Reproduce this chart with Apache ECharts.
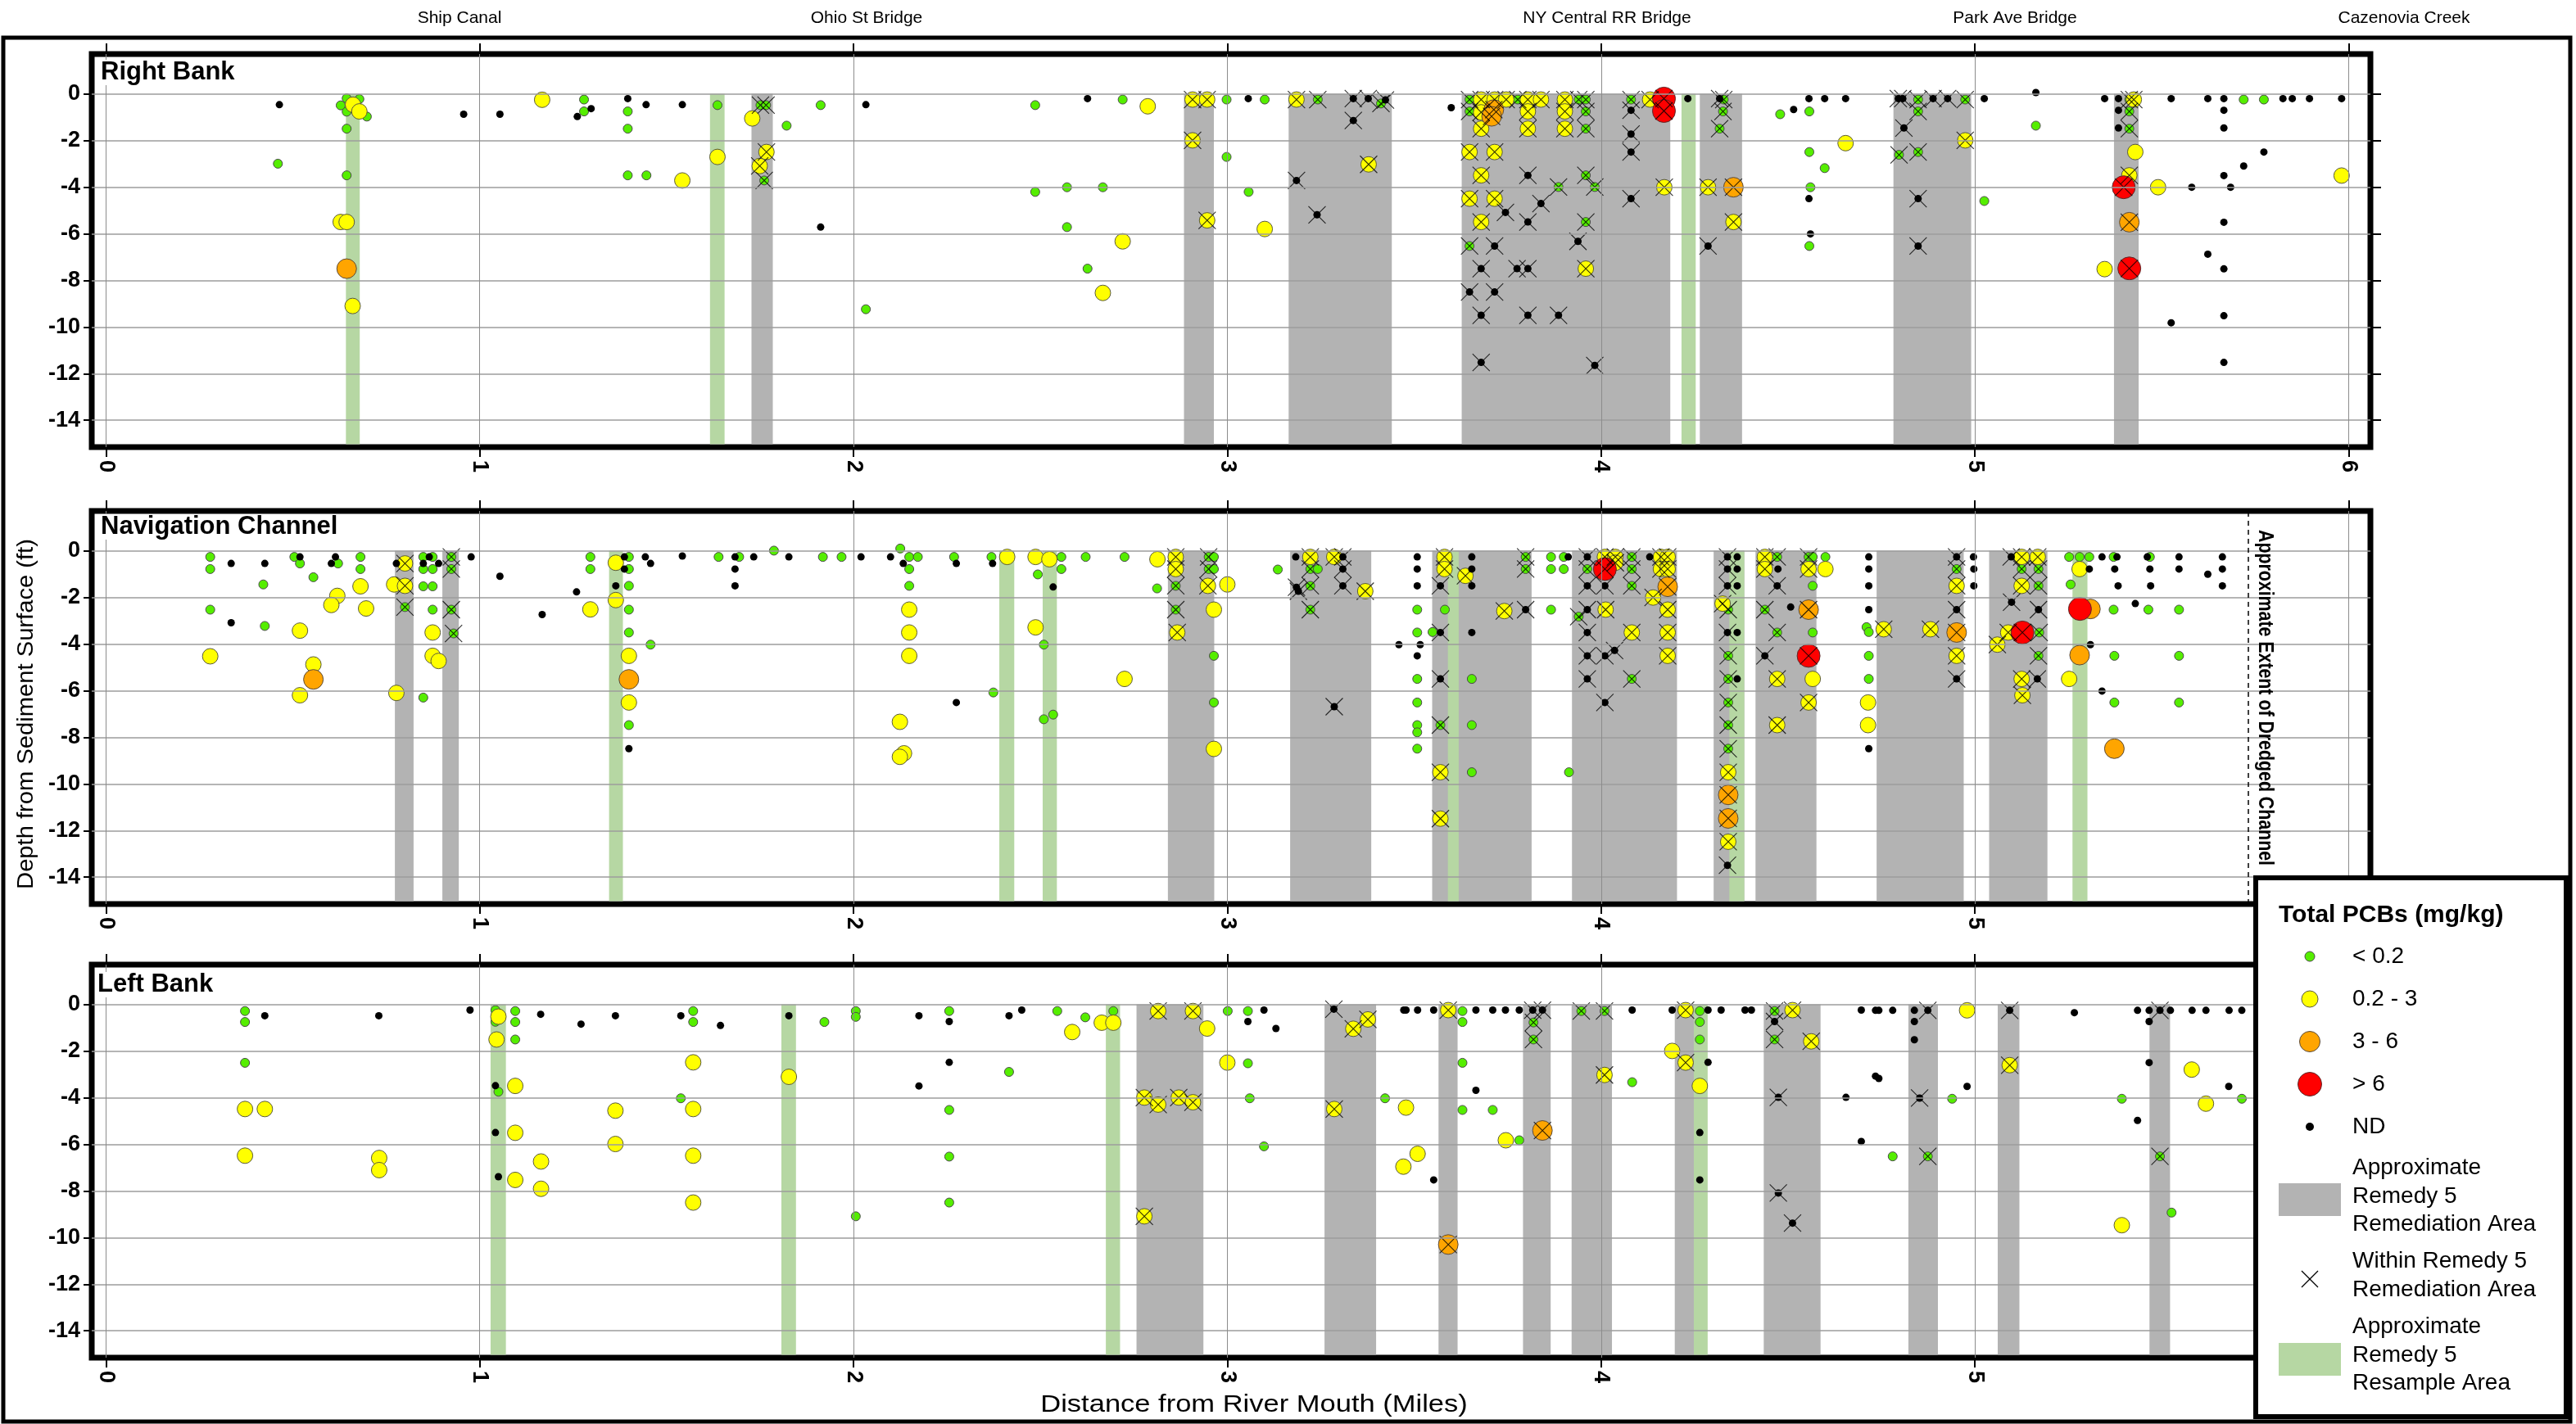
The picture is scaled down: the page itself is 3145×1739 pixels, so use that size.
<!DOCTYPE html>
<html><head><meta charset="utf-8">
<script src="https://cdn.jsdelivr.net/npm/echarts@6.0.0/dist/echarts.min.js"></script>
<style>html,body{margin:0;padding:0;background:#fff}#c{width:3145px;height:1739px}</style>
</head><body><div id="c"></div>
<script>
// ---------------- DATA ----------------
// points: [mile, depth(ft), withinRemedy5(1) ]
const panelNames = ['Right Bank', 'Navigation Channel', 'Left Bank'];
const mileTicks = [0, 1, 2, 3, 4, 5, 6];
const mileTicksUnderLegend = [0, 1, 2, 3, 4, 5];
const depthTicks = [0, -2, -4, -6, -8, -10, -12, -14];
const classNames = ['< 0.2', '0.2 - 3', '3 - 6', '> 6', 'ND'];
const landmarkNames = ['Ship Canal', 'Ohio St Bridge', 'NY Central RR Bridge', 'Park Ave Bridge', 'Cazenovia Creek'];
const dredgedChannelEnd = 5.732;

// ---- Right Bank ----
const rbGreen = [[0.46,-3.0,0],[0.644,-0.2,0],[0.678,-0.23,0],[0.628,-0.5,0],[0.644,-0.77,0],[0.698,-0.98,0],[0.644,-1.5,0],[0.644,-3.5,0],
[1.279,-0.25,0],[1.279,-0.76,0],[1.396,-0.76,0],[1.396,-1.5,0],[1.396,-3.5,0],[1.446,-3.5,0],
[1.636,-0.49,0],[1.751,-0.49,1],[1.766,-0.49,1],[1.821,-1.37,0],[1.912,-0.49,0],[1.761,-3.72,1],
[2.033,-9.24,0],[2.486,-0.49,0],[2.486,-4.21,0],[2.571,-4.01,0],[2.667,-4.01,0],[2.571,-5.72,0],[2.72,-0.25,0],[2.626,-7.5,0],
[2.998,-0.25,0],[2.998,-2.71,0],[3.1,-0.25,0],[3.057,-4.21,0],[3.242,-0.25,1],[3.411,-0.42,1],
[3.648,-0.25,1],[3.648,-0.76,1],[3.777,-0.25,1],[3.94,-0.25,1],[3.959,-0.25,1],[3.959,-0.76,1],[3.959,-1.5,1],[3.959,-3.5,1],[3.886,-4.0,1],[3.983,-4.0,1],[3.959,-5.5,1],[3.648,-6.53,1],
[4.08,-0.25,1],[4.328,-0.25,1],[4.326,-0.76,1],[4.317,-1.5,1],
[4.479,-0.88,0],[4.557,-0.76,0],[4.557,-2.5,0],[4.598,-3.19,0],[4.56,-4.01,0],[4.557,-6.53,0],
[4.848,-0.25,1],[4.974,-0.25,1],[4.848,-0.76,1],[4.797,-2.62,1],[4.848,-2.5,1],
[5.163,-1.37,0],[5.025,-4.6,0],[5.413,-0.25,1],[5.413,-0.76,1],[5.413,-1.5,1],[5.719,-0.25,0],[5.773,-0.25,0]];
const rbYellow = [[0.661,-0.47,0],[0.678,-0.76,0],[0.628,-5.5,0],[0.644,-5.5,0],[0.66,-9.1,0],
[1.167,-0.26,0],[1.542,-3.72,0],[1.636,-2.71,0],[1.729,-1.06,0],[1.767,-2.5,1],[1.749,-3.1,1],
[2.787,-0.54,0],[2.72,-6.33,0],[2.667,-8.54,0],[2.907,-0.25,1],[2.946,-0.25,1],[2.907,-2.0,1],[2.946,-5.43,1],
[3.1,-5.8,0],[3.185,-0.25,1],[3.378,-3.03,1],
[3.679,-0.25,1],[3.715,-0.25,1],[3.746,-0.25,1],[3.804,-0.25,1],[3.839,-0.25,1],[3.903,-0.25,1],
[3.679,-0.8,1],[3.804,-0.76,1],[3.903,-0.76,1],[3.679,-1.5,1],[3.804,-1.5,1],[3.903,-1.5,1],
[3.648,-2.5,1],[3.715,-2.5,1],[3.679,-3.5,1],[3.648,-4.5,1],[3.715,-4.5,1],[3.679,-5.5,1],[3.959,-7.5,1],
[4.131,-0.25,1],[4.169,-4.01,1],[4.286,-4.01,1],[4.354,-5.5,1],[4.654,-2.12,0],[4.974,-2.0,1],
[5.425,-0.25,1],[5.429,-2.5,0],[5.413,-3.5,1],[5.49,-4.01,0],[5.347,-7.52,0],[5.981,-3.51,0]];
const rbOrange = [[0.644,-7.5,0],[3.713,-0.68,1],[3.707,-0.97,1],[4.354,-4.01,1],[5.413,-5.51,1]];
const rbRed = [[4.168,-0.21,1],[4.168,-0.74,1],[5.398,-4.01,1],[5.413,-7.49,1]];
const rbND = [[0.464,-0.47,0],[0.957,-0.88,0],[1.054,-0.88,0],[1.261,-0.98,0],[1.298,-0.64,0],[1.396,-0.21,0],[1.445,-0.47,0],[1.542,-0.47,0],
[1.912,-5.72,0],[2.033,-0.47,0],[2.626,-0.21,0],[3.056,-0.21,0],
[3.337,-0.21,1],[3.377,-0.21,1],[3.423,-0.27,1],[3.337,-1.15,1],[3.185,-3.72,1],[3.24,-5.19,1],[3.599,-0.6,0],
[3.804,-3.5,1],[3.839,-4.71,1],[3.744,-5.09,1],[3.804,-5.5,1],[3.938,-6.33,1],[3.715,-6.53,1],[3.679,-7.5,1],[3.775,-7.5,1],[3.804,-7.5,1],[3.648,-8.5,1],[3.715,-8.5,1],[3.679,-9.5,1],[3.804,-9.5,1],[3.886,-9.5,1],[3.679,-11.52,1],[3.983,-11.65,1],
[4.08,-0.71,1],[4.08,-1.73,1],[4.08,-2.5,1],[4.08,-4.5,1],[4.232,-0.21,0],[4.317,-0.21,1],[4.286,-6.53,1],
[4.515,-0.68,0],[4.556,-0.21,0],[4.598,-0.21,0],[4.654,-0.21,0],[4.556,-4.5,0],[4.56,-6.01,0],
[4.795,-0.21,1],[4.807,-0.21,1],[4.888,-0.21,1],[4.927,-0.21,1],[4.81,-1.47,1],[4.848,-4.5,1],[4.848,-6.53,1],
[5.025,-0.21,0],[5.163,0.05,0],[5.347,-0.21,0],[5.384,-0.21,0],[5.384,-0.71,0],[5.384,-1.47,0],
[5.525,-0.21,0],[5.623,-0.21,0],[5.666,-0.21,0],[5.824,-0.21,0],[5.849,-0.21,0],[5.895,-0.21,0],[5.981,-0.21,0],
[5.666,-0.71,0],[5.666,-1.47,0],[5.773,-2.5,0],[5.719,-3.1,0],[5.666,-3.51,0],[5.58,-4.01,0],[5.684,-4.01,0],[5.666,-5.51,0],[5.623,-6.88,0],[5.666,-7.51,0],[5.666,-9.52,0],[5.525,-9.82,0],[5.666,-11.52,0]];
const rbRemedyBands = [[1.727,1.784],[2.884,2.964],[3.164,3.44],[3.627,4.185],[4.264,4.377],[4.782,4.99],[5.372,5.438]];
const rbResampleBands = [[0.642,0.679],[1.616,1.655],[4.215,4.253]];

// ---- Navigation Channel ----
const ncGreen = [[0.279,-0.27,0],[0.279,-0.79,0],[0.279,-2.53,0],[0.421,-1.45,0],[0.425,-3.23,0],[0.504,-0.27,0],[0.519,-0.55,0],[0.555,-1.14,0],[0.621,-0.55,0],
[0.681,-0.27,0],[0.681,-0.79,0],[0.8,-2.42,1],[0.849,-0.27,0],[0.849,-0.79,0],[0.849,-1.53,0],[0.874,-0.27,0],[0.874,-0.79,0],[0.874,-1.53,0],[0.874,-2.53,0],[0.849,-6.3,0],
[0.924,-0.27,1],[0.924,-0.79,1],[0.924,-2.53,1],[0.93,-3.55,1],[1.296,-0.27,0],[1.296,-0.79,0],
[1.399,-0.27,0],[1.399,-0.79,0],[1.399,-1.51,0],[1.399,-2.53,0],[1.399,-3.51,0],[1.399,-7.48,0],[1.457,-4.03,0],
[1.639,-0.27,0],[1.694,-0.27,0],[1.787,0.0,0],[1.918,-0.27,0],[1.968,-0.27,0],
[2.125,0.09,0],[2.149,-0.27,0],[2.172,-0.27,0],[2.149,-0.79,0],[2.149,-1.51,0],[2.269,-0.27,0],[2.369,-0.27,0],[2.374,-6.08,0],
[2.493,-1.02,0],[2.509,-4.03,0],[2.509,-7.23,0],[2.534,-7.03,0],[2.556,-0.27,0],[2.556,-0.79,0],[2.621,-0.27,0],[2.725,-0.27,0],[2.812,-1.62,0],
[2.862,-1.51,1],[2.862,-2.53,1],[2.95,-0.27,1],[2.95,-0.79,1],[2.964,-0.27,0],[2.964,-0.79,0],[2.964,-4.51,0],[2.964,-6.51,0],
[3.135,-0.81,0],[3.222,-0.79,1],[3.242,-0.79,0],[3.222,-1.51,1],[3.222,-2.53,1],
[3.508,-2.53,0],[3.508,-3.51,0],[3.549,-3.49,0],[3.508,-5.5,0],[3.508,-6.51,0],[3.508,-7.48,0],[3.508,-7.79,0],[3.508,-8.49,0],
[3.582,-2.53,0],[3.57,-7.48,1],[3.654,-5.5,0],[3.654,-7.48,0],[3.654,-9.5,0],[3.798,-0.27,1],[3.798,-0.79,1],
[3.866,-0.27,0],[3.9,-0.27,0],[3.866,-0.79,0],[3.9,-0.79,0],[3.866,-2.53,0],[3.914,-9.5,0],[3.963,-0.79,1],[3.94,-2.83,1],
[4.082,-0.27,1],[4.082,-0.79,1],[4.082,-1.51,1],[4.082,-5.5,1],
[4.34,-2.53,1],[4.34,-4.51,1],[4.34,-5.5,1],[4.34,-6.51,1],[4.34,-7.48,1],[4.34,-8.49,1],
[4.471,-0.27,1],[4.438,-2.53,1],[4.471,-3.51,1],[4.555,-0.27,1],[4.566,-0.27,0],[4.6,-0.27,0],[4.566,-1.51,0],[4.566,-3.51,0],
[4.71,-3.28,0],[4.716,-3.49,0],[4.716,-4.51,0],[4.716,-5.5,0],
[4.951,-0.79,1],[5.125,-0.79,1],[5.17,-0.79,1],[5.17,-1.51,1],[5.172,-3.51,1],[5.17,-4.51,1],
[5.252,-0.27,0],[5.28,-0.27,0],[5.306,-0.27,0],[5.371,-0.27,0],[5.468,-0.27,0],[5.256,-1.45,0],
[5.371,-2.53,0],[5.464,-2.53,0],[5.546,-2.53,0],[5.373,-4.51,0],[5.546,-4.51,0],[5.373,-6.51,0],[5.546,-6.51,0]];
const ncYellow = [[0.279,-4.53,0],[0.519,-3.43,0],[0.519,-6.2,0],[0.555,-4.88,0],[0.619,-1.94,0],[0.603,-2.33,0],[0.681,-1.53,0],[0.696,-2.48,0],
[0.8,-0.55,1],[0.771,-1.45,0],[0.8,-1.51,1],[0.777,-6.1,0],[0.874,-3.51,0],[0.874,-4.51,0],[0.89,-4.73,0],
[1.296,-2.52,0],[1.364,-0.52,0],[1.364,-2.12,0],[1.399,-4.51,0],[1.399,-6.51,0],
[2.149,-2.53,0],[2.149,-3.51,0],[2.149,-4.51,0],[2.124,-7.34,0],[2.135,-8.69,0],[2.124,-8.84,0],
[2.411,-0.27,0],[2.487,-0.27,0],[2.524,-0.37,0],[2.487,-3.29,0],[2.725,-5.5,0],[2.813,-0.37,0],
[2.862,-0.27,1],[2.862,-0.79,1],[2.866,-3.51,1],[2.948,-1.51,1],[2.964,-2.53,0],[2.964,-8.5,0],[3.0,-1.45,0],
[3.222,-0.27,1],[3.286,-0.27,1],[3.369,-1.74,1],[3.581,-0.27,1],[3.581,-0.79,1],[3.57,-9.5,1],[3.57,-11.49,1],[3.637,-1.08,1],[3.741,-2.59,1],
[4.01,-0.27,1],[4.038,-0.27,1],[4.038,-0.52,1],[4.012,-2.53,1],[4.082,-3.51,1],
[4.16,-0.27,1],[4.178,-0.27,1],[4.16,-0.79,1],[4.178,-0.79,1],[4.139,-2.01,1],[4.178,-2.53,1],[4.178,-3.51,1],[4.178,-4.51,1],
[4.325,-2.27,1],[4.34,-9.5,1],[4.34,-12.48,1],
[4.438,-0.27,1],[4.438,-0.79,1],[4.471,-5.5,1],[4.566,-5.5,0],[4.555,-6.51,1],[4.471,-7.48,1],[4.555,-0.79,1],[4.6,-0.79,0],
[4.756,-3.37,1],[4.714,-6.51,0],[4.714,-7.48,0],[4.881,-3.37,1],[4.951,-1.51,1],[4.951,-4.51,1],
[5.125,-0.27,1],[5.168,-0.27,1],[5.125,-1.51,1],[5.089,-3.51,1],[5.06,-4.03,1],[5.125,-5.5,1],[5.127,-6.2,1],
[5.28,-0.79,0],[5.252,-5.5,0]];
const ncOrange = [[0.555,-5.52,0],[1.399,-5.52,0],[4.178,-1.55,1],[4.34,-10.47,1],[4.34,-11.48,1],[4.555,-2.53,1],[4.951,-3.51,1],[5.309,-2.5,0],[5.28,-4.48,0],[5.373,-8.49,0]];
const ncRed = [[4.01,-0.79,1],[4.555,-4.51,1],[5.127,-3.51,1],[5.281,-2.5,0]];
const ncND = [[0.335,-0.55,0],[0.335,-3.09,0],[0.425,-0.55,0],[0.519,-0.27,0],[0.614,-0.27,0],[0.603,-0.55,0],
[0.777,-0.55,0],[0.849,-0.55,0],[0.865,-0.27,0],[0.89,-0.55,0],[0.977,-0.27,0],
[1.054,-1.1,0],[1.167,-2.74,0],[1.259,-1.77,0],[1.364,-1.51,0],[1.387,-0.27,0],[1.387,-0.79,0],[1.399,-8.49,0],
[1.443,-0.27,0],[1.457,-0.55,0],[1.542,-0.23,0],
[1.683,-0.27,0],[1.733,-0.27,0],[1.827,-0.27,0],[1.683,-0.79,0],[1.683,-1.51,0],[2.02,-0.27,0],[2.099,-0.27,0],[2.133,-0.55,0],
[2.275,-0.55,0],[2.275,-6.51,0],[2.372,-0.55,0],[2.534,-1.56,0],
[3.183,-0.27,0],[3.309,-0.27,1],[3.309,-0.79,1],[3.185,-1.57,1],[3.19,-1.74,1],[3.309,-1.51,1],[3.286,-6.69,1],
[3.508,-0.27,0],[3.508,-0.79,0],[3.508,-1.51,0],[3.459,-4.03,0],[3.516,-4.03,0],[3.508,-4.51,0],
[3.57,-1.51,1],[3.57,-3.51,1],[3.57,-5.5,1],[3.654,-0.27,0],[3.654,-0.79,0],[3.654,-1.51,0],[3.654,-3.51,0],
[3.798,-2.53,1],[3.912,-0.27,0],
[3.963,-0.27,1],[3.963,-1.51,1],[3.963,-2.53,1],[3.963,-3.51,1],[3.963,-4.51,1],[3.963,-5.5,1],
[4.01,-1.51,1],[4.01,-4.51,1],[4.036,-4.28,1],[4.01,-6.51,1],[4.13,-0.27,0],
[4.338,-0.27,1],[4.364,-0.27,0],[4.338,-0.79,1],[4.364,-0.79,0],[4.338,-1.51,1],[4.364,-1.51,0],[4.338,-3.51,1],[4.364,-3.51,0],[4.364,-5.5,0],[4.338,-13.49,1],
[4.473,-0.79,0],[4.471,-1.51,1],[4.507,-2.42,0],[4.438,-4.51,1],
[4.716,-0.27,0],[4.716,-0.79,0],[4.716,-1.51,0],[4.716,-2.53,0],[4.716,-8.49,0],
[4.951,-0.27,1],[4.951,-2.53,1],[4.951,-5.5,1],[4.996,-0.27,0],[4.997,-0.79,0],[4.997,-1.51,0],
[5.097,-0.27,1],[5.098,-2.21,1],[5.17,-2.53,1],[5.167,-5.5,1],
[5.34,-0.27,0],[5.38,-0.27,0],[5.461,-0.27,0],[5.546,-0.27,0],[5.662,-0.27,0],
[5.306,-0.79,0],[5.374,-0.79,0],[5.468,-0.79,0],[5.546,-0.79,0],[5.662,-0.79,0],[5.623,-1.01,0],
[5.383,-1.51,0],[5.47,-1.51,0],[5.662,-1.51,0],[5.429,-2.27,0],[5.309,-4.03,0],[5.34,-6.02,0]];
const ncRemedyBands = [[0.773,0.823],[0.90,0.944],[2.841,2.965],[3.168,3.385],[3.548,3.814],[3.922,4.203],[4.301,4.383],[4.413,4.576],[4.737,4.97],[5.038,5.194]];
const ncResampleBands = [[1.346,1.383],[2.39,2.43],[2.506,2.544],[3.59,3.619],[4.343,4.383],[5.261,5.301]];

// ---- Left Bank ----
const lbGreen = [[0.372,-0.29,0],[0.372,-0.76,0],[0.372,-2.51,0],
[1.042,-0.25,0],[1.042,-0.75,0],[1.05,-3.75,0],[1.095,-0.29,0],[1.095,-0.76,0],[1.095,-1.51,0],[1.538,-4.03,0],
[1.571,-0.29,0],[1.571,-0.76,0],[1.922,-0.76,0],[2.006,-0.29,0],[2.006,-0.54,0],[2.006,-9.09,0],
[2.256,-0.29,0],[2.256,-4.53,0],[2.256,-6.53,0],[2.256,-8.5,0],[2.416,-2.9,0],[2.545,-0.29,0],[2.62,-0.56,0],[2.695,-0.29,0],
[3.001,-0.29,0],[3.055,-0.29,0],[3.055,-2.53,0],[3.06,-4.03,0],[3.098,-6.09,0],
[3.422,-4.03,0],[3.629,-0.29,0],[3.629,-0.76,0],[3.629,-2.51,0],[3.629,-4.53,0],[3.71,-4.53,0],[3.781,-5.83,0],
[3.819,-0.78,1],[3.819,-1.51,1],[3.947,-0.29,1],[4.009,-0.29,1],[4.083,-3.34,0],
[4.264,-0.29,0],[4.264,-0.76,0],[4.264,-1.51,0],[4.464,-0.29,1],[4.464,-1.51,1],
[4.939,-4.05,0],[4.78,-6.52,0],[4.874,-6.52,1],[5.393,-4.05,0],[5.495,-6.52,1],[5.526,-8.93,0],[5.714,-4.05,0]];
const lbYellow = [[0.372,-4.49,0],[0.372,-6.49,0],[0.425,-4.49,0],[0.731,-6.59,0],[0.731,-7.11,0],
[1.05,-0.53,0],[1.045,-1.51,0],[1.095,-3.5,0],[1.095,-5.51,0],[1.095,-7.53,0],[1.164,-6.74,0],[1.164,-7.91,0],[1.363,-4.56,0],[1.363,-5.99,0],
[1.571,-2.49,0],[1.571,-4.49,0],[1.571,-6.49,0],[1.571,-8.5,0],[1.827,-3.11,0],
[2.585,-1.19,0],[2.664,-0.79,0],[2.695,-0.79,0],
[2.815,-0.29,1],[2.908,-0.29,1],[2.778,-4.0,1],[2.815,-4.3,1],[2.87,-4.0,1],[2.908,-4.2,1],[2.778,-9.09,1],
[2.946,-1.04,0],[3.0,-2.5,0],[3.337,-1.05,1],[3.376,-0.65,1],[3.286,-4.49,1],[3.478,-4.43,0],[3.509,-6.41,0],[3.471,-6.96,0],
[3.591,-0.25,1],[3.745,-5.83,0],[4.009,-3.03,1],[4.226,-0.25,1],[4.19,-2.0,0],[4.226,-2.5,1],[4.264,-3.5,0],
[4.512,-0.25,1],[4.562,-1.59,1],[4.979,-0.26,0],[5.093,-2.61,1],[5.393,-9.47,0],[5.58,-2.8,0],[5.618,-4.26,0]];
const lbOrange = [[3.591,-10.3,1],[3.843,-5.41,1]];
const lbRed = [];
const lbND = [[0.425,-0.49,0],[0.73,-0.49,0],[0.974,-0.25,0],[1.042,-3.49,0],[1.042,-5.5,0],[1.05,-7.39,0],[1.163,-0.43,0],[1.271,-0.85,0],[1.363,-0.49,0],[1.538,-0.49,0],
[1.644,-0.91,0],[1.827,-0.49,0],[2.175,-0.49,0],[2.175,-3.5,0],[2.256,-0.74,0],[2.256,-2.49,0],[2.416,-0.49,0],[2.45,-0.25,0],
[3.055,-0.74,0],[3.098,-0.25,0],[3.13,-1.04,0],
[3.285,-0.21,1],[3.472,-0.25,0],[3.478,-0.25,0],[3.509,-0.25,0],[3.552,-0.25,0],[3.552,-7.53,0],
[3.665,-0.25,0],[3.665,-3.69,0],[3.71,-0.25,0],[3.744,-0.25,0],[3.781,-0.25,0],
[3.817,-0.25,1],[3.843,-0.25,1],[4.083,-0.25,0],[4.19,-0.25,0],
[4.264,-5.5,0],[4.264,-7.53,0],[4.286,-0.25,0],[4.286,-2.49,0],[4.321,-0.25,0],[4.385,-0.25,0],[4.402,-0.25,0],
[4.464,-0.74,1],[4.474,-3.99,1],[4.474,-8.09,1],[4.512,-9.38,1],[4.655,-3.99,0],[4.696,-0.25,0],[4.696,-5.88,0],
[4.734,-0.26,0],[4.743,-0.26,0],[4.78,-0.26,0],[4.838,-0.26,0],[4.874,-0.26,1],[4.838,-0.74,0],[4.838,-1.52,0],[4.734,-3.08,0],[4.743,-3.18,0],[4.852,-4.02,1],[4.979,-3.52,0],
[5.093,-0.26,1],[5.266,-0.36,0],[5.435,-4.98,0],
[5.435,-0.26,0],[5.466,-0.26,0],[5.495,-0.26,1],[5.523,-0.26,0],[5.581,-0.26,0],[5.618,-0.26,0],[5.68,-0.26,0],[5.714,-0.26,0],
[5.466,-0.74,0],[5.466,-2.5,0],[5.679,-3.52,0]];
const lbRemedyBands = [[2.757,2.936],[3.26,3.398],[3.565,3.616],[3.791,3.865],[3.921,4.029],[4.197,4.248],[4.435,4.587],[4.822,4.901],[5.061,5.119],[5.467,5.522]];
const lbResampleBands = [[1.029,1.07],[1.807,1.846],[2.675,2.713],[4.248,4.285]];

// ---------------- STYLE / LAYOUT ----------------
const FONT = '"Liberation Sans", Arial, sans-serif';
const X_MIN = -0.038, X_MAX = 6.058, Y_MIN = -15.15, Y_MAX = 1.7, Y_BAND_BOTTOM = -15.03;
const gridTops = [66, 624, 1178];
const catStyle = [
  {color:'#55ee00', size:11, border:'#4a4a4a'},
  {color:'#ffff00', size:19, border:'#5a5a3a'},
  {color:'#ffa500', size:24, border:'#5a4a3a'},
  {color:'#ff0000', size:28, border:'#5a2a2a'},
  {color:'#000000', size:9,  border:'#000000'}
];
const panels = [
  {groups:[rbGreen, rbYellow, rbOrange, rbRed, rbND], remedy:rbRemedyBands, resample:rbResampleBands,
   bottomTicks:mileTicks, topTicks:mileTicks},
  {groups:[ncGreen, ncYellow, ncOrange, ncRed, ncND], remedy:ncRemedyBands, resample:ncResampleBands,
   bottomTicks:mileTicksUnderLegend, topTicks:mileTicks},
  {groups:[lbGreen, lbYellow, lbOrange, lbRed, lbND], remedy:lbRemedyBands, resample:lbResampleBands,
   bottomTicks:mileTicksUnderLegend, topTicks:mileTicksUnderLegend}
];

const grid = [], xAxis = [], yAxis = [], series = [], title = [];
const titleTops = [73, 628, 1187];
panels.forEach((p, i) => {
  grid.push({left:112, width:2782, top:gridTops[i], height:480, show:true, borderColor:'#000', borderWidth:7,
             backgroundColor:'transparent', containLabel:false, outerBoundsMode:'none'});
  title.push({text:panelNames[i], left:(i===2?117:121), top:titleTops[i], padding:[0,2],
              backgroundColor:'#fff', textStyle:{fontSize:31, fontWeight:'bold', fontFamily:FONT, color:'#000'}});
});
panels.forEach((p, i) => {
  xAxis.push({gridIndex:i, type:'value', min:X_MIN, max:X_MAX, position:'bottom',
    axisLine:{show:false, onZero:false},
    axisTick:{show:true, inside:false, length:12, customValues:p.bottomTicks, lineStyle:{color:'#000', width:2}},
    axisLabel:{show:true, customValues:p.bottomTicks, rotate:-90, margin:16, fontSize:27, fontWeight:'bold', fontFamily:FONT, color:'#000'},
    splitLine:{show:false}});
});
panels.forEach((p, i) => {
  xAxis.push({gridIndex:i, type:'value', min:X_MIN, max:X_MAX, position:'top',
    axisLine:{show:false, onZero:false},
    axisTick:{show:true, inside:false, length:13, customValues:p.topTicks, lineStyle:{color:'#000', width:2}},
    axisLabel:{show:false}, splitLine:{show:false}});
});
for (let i = 0; i < 3; i++) {
  yAxis.push({gridIndex:i, type:'value', min:Y_MIN, max:Y_MAX, position:'left',
    axisLine:{show:false, onZero:false},
    axisTick:{show:true, inside:false, length:10, customValues:depthTicks, lineStyle:{color:'#000', width:2}},
    axisLabel:{show:true, customValues:depthTicks, margin:14, fontSize:27, fontWeight:'bold', fontFamily:FONT, color:'#000'},
    splitLine:{show:false}});
}
yAxis.push({gridIndex:0, type:'value', min:Y_MIN, max:Y_MAX, position:'right',
    axisLine:{show:false, onZero:false},
    axisTick:{show:true, inside:false, length:13, customValues:depthTicks, lineStyle:{color:'#000', width:2}},
    axisLabel:{show:false}, splitLine:{show:false}});

panels.forEach((p, i) => {
  series.push({type:'scatter', name:'Approximate Remedy 5 Remediation Area', xAxisIndex:i, yAxisIndex:i, data:[], silent:true, z:1,
    markArea:{silent:true, itemStyle:{color:'#b3b3b3'},
      data:p.remedy.map(b => [{xAxis:b[0], yAxis:0}, {xAxis:b[1], yAxis:Y_BAND_BOTTOM}])}});
  series.push({type:'scatter', name:'Approximate Remedy 5 Resample Area', xAxisIndex:i, yAxisIndex:i, data:[], silent:true, z:1,
    markArea:{silent:true, itemStyle:{color:'#b6d7a3'},
      data:p.resample.map(b => [{xAxis:b[0], yAxis:0}, {xAxis:b[1], yAxis:Y_BAND_BOTTOM}])}});
  const ml = depthTicks.map(v => ({yAxis:v, lineStyle:{color:'#9c9c9c', width:1.6, type:'solid'}}))
    .concat(mileTicks.map(v => ({xAxis:v, lineStyle:{color:'#8c8c8c', width:1, type:'solid'}})));
  if (i === 1) ml.push({xAxis:dredgedChannelEnd, lineStyle:{color:'#000', width:1.5, type:[6,5]}});
  series.push({type:'scatter', xAxisIndex:i, yAxisIndex:i, data:[], silent:true, z:2,
    markLine:{silent:true, symbol:['none','none'], label:{show:false}, animation:false, data:ml}});
  p.groups.forEach((g, k) => {
    const s = catStyle[k];
    series.push({type:'scatter', name:classNames[k], xAxisIndex:i, yAxisIndex:i, z:3, clip:false,
      symbol:'circle', symbolSize:s.size,
      itemStyle:{color:s.color, borderColor:s.border, borderWidth:(k===4?0:1), opacity:1},
      emphasis:{disabled:true},
      data:g.map(d => [d[0], d[1]])});
  });
  const xs = [];
  p.groups.forEach(g => g.forEach(d => { if (d[2] === 1) xs.push([d[0], d[1]]); }));
  series.push({type:'scatter', name:'Within Remedy 5 Remediation Area', xAxisIndex:i, yAxisIndex:i, z:4, clip:false,
    symbol:'path://M0,0L20,20M20,0L0,20', symbolSize:21,
    itemStyle:{color:'rgba(0,0,0,0)', borderColor:'#000', borderWidth:1.1},
    emphasis:{disabled:true}, data:xs});
});

// ---------------- ANNOTATIONS (graphic) ----------------
const landmarkX = [561, 1058, 1962, 2460, 2935];
const graphic = [
  {type:'rect', z:0, shape:{x:4, y:46, width:3134, height:1690}, style:{fill:'none', stroke:'#000', lineWidth:5}, silent:true}
];
landmarkNames.forEach((t, k) => graphic.push({type:'text', x:landmarkX[k], y:22, z:50, silent:true,
  style:{text:t, fontSize:21, fontFamily:FONT, fill:'#000', textAlign:'center', textVerticalAlign:'middle'}}));
graphic.push({type:'text', x:33, y:872, rotation:Math.PI/2, scaleX:1.08, z:50, silent:true,
  style:{text:'Depth from Sediment Surface (ft)', fontSize:27, fontFamily:FONT, fill:'#000', textAlign:'center', textVerticalAlign:'middle'}});
graphic.push({type:'text', x:1531, y:1716, scaleX:1.15, z:50, silent:true,
  style:{text:'Distance from River Mouth (Miles)', fontSize:30, fontFamily:FONT, fill:'#000', textAlign:'center', textVerticalAlign:'middle'}});
graphic.push({type:'text', x:2765, y:852, rotation:-Math.PI/2, scaleX:0.82, z:50, silent:true,
  style:{text:'Approximate Extent of Dredged Channel', fontSize:26, fontWeight:'bold', fontFamily:FONT, fill:'#000', textAlign:'center', textVerticalAlign:'middle'}});

// legend box
const leg = [
  {type:'rect', z:100, shape:{x:2754, y:1072, width:379, height:658}, style:{fill:'#fff', stroke:'#000', lineWidth:6}},
  {type:'text', z:101, x:2782, y:1118, style:{text:'Total PCBs (mg/kg)', fontSize:30, fontWeight:'bold', fontFamily:FONT, fill:'#000', textVerticalAlign:'middle'}}
];
const legY = [1168, 1220, 1272, 1324, 1376];
catStyle.forEach((s, k) => {
  leg.push({type:'circle', z:101, shape:{cx:2820, cy:legY[k], r:s.size/2 + 0.5},
    style:{fill:s.color, stroke:(k===4?null:s.border), lineWidth:1}});
  leg.push({type:'text', z:101, x:2872, y:legY[k], style:{text:classNames[k], fontSize:28, fontFamily:FONT, fill:'#000', textVerticalAlign:'middle'}});
});
leg.push({type:'rect', z:101, shape:{x:2782, y:1445, width:76, height:40}, style:{fill:'#b3b3b3'}});
leg.push({type:'text', z:101, x:2872, y:1461, style:{text:'Approximate\nRemedy 5\nRemediation Area', fontSize:28, lineHeight:34.5, fontFamily:FONT, fill:'#000', textVerticalAlign:'middle'}});
leg.push({type:'line', z:101, shape:{x1:2810, y1:1552, x2:2830, y2:1572}, style:{stroke:'#000', lineWidth:1.2}});
leg.push({type:'line', z:101, shape:{x1:2830, y1:1552, x2:2810, y2:1572}, style:{stroke:'#000', lineWidth:1.2}});
leg.push({type:'text', z:101, x:2872, y:1558, style:{text:'Within Remedy 5\nRemediation Area', fontSize:28, lineHeight:34.5, fontFamily:FONT, fill:'#000', textVerticalAlign:'middle'}});
leg.push({type:'rect', z:101, shape:{x:2782, y:1640, width:76, height:40}, style:{fill:'#b6d7a3'}});
leg.push({type:'text', z:101, x:2872, y:1655, style:{text:'Approximate\nRemedy 5\nResample Area', fontSize:28, lineHeight:34.5, fontFamily:FONT, fill:'#000', textVerticalAlign:'middle'}});
leg.forEach(e => { e.silent = true; graphic.push(e); });

const chart = echarts.init(document.getElementById('c'), null, {renderer:'canvas', width:3145, height:1739});
chart.setOption({
  animation:false, backgroundColor:'#fff',
  title, grid, xAxis, yAxis, series, graphic,
  tooltip:{show:false}
});
</script>
</body></html>
